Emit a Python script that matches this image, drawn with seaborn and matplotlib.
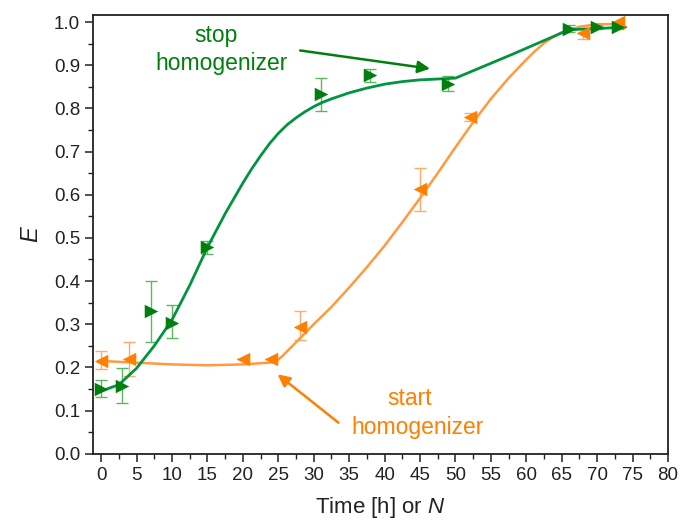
import matplotlib
matplotlib.use("Agg")
import matplotlib.pyplot as plt
from matplotlib.ticker import MultipleLocator, FormatStrFormatter
import seaborn as sns
import pandas as pd

# Measured points: stop homogenizer series (green)
stop_x = [0, 3, 7, 10, 15, 31, 38, 49, 66, 70, 73]
stop_y = [0.151, 0.158, 0.33, 0.304, 0.478, 0.833, 0.877, 0.857, 0.984, 0.988, 0.988]
stop_lo = [0.02, 0.04, 0.07, 0.035, 0.015, 0.038, 0.015, 0.017, 0.008, 0.005, 0.005]
stop_hi = [0.02, 0.04, 0.07, 0.04, 0.015, 0.038, 0.015, 0.017, 0.008, 0.005, 0.005]

# Measured points: start homogenizer series (orange)
start_x = [0, 4, 20, 24, 28, 45, 52, 68, 73]
start_y = [0.216, 0.22, 0.22, 0.22, 0.294, 0.613, 0.78, 0.975, 1.0]
start_lo = [0.02, 0.04, 0.0, 0.0, 0.03, 0.05, 0.01, 0.015, 0.0]
start_hi = [0.022, 0.04, 0.0, 0.0, 0.036, 0.05, 0.01, 0.0, 0.0]

# Fitted trend curves
stop_fit_x = [0, 2.5, 5, 7.5, 10, 12.5, 15, 17.5, 20, 21.25, 22.5, 23.75, 25,
              26.25, 27.5, 28.75, 30, 31.25, 32.5, 35, 37.5, 40, 42.5, 45,
              47.5, 50, 58, 66, 74]
stop_fit_y = [0.145, 0.16, 0.198, 0.25, 0.31, 0.39, 0.478, 0.556, 0.627, 0.66,
              0.69, 0.718, 0.742, 0.762, 0.778, 0.792, 0.804, 0.814, 0.822,
              0.836, 0.847, 0.856, 0.862, 0.866, 0.868, 0.870, 0.925, 0.982,
              0.988]
start_fit_x = [0, 5, 10, 15, 20, 24.5, 25.5, 27.5, 30, 32.5, 35, 37.5, 40,
               42.5, 45, 47.5, 50, 52.5, 55, 57.5, 60, 61.25, 62.5, 63.75, 65,
               66.25, 67.5, 70, 73]
start_fit_y = [0.215, 0.211, 0.207, 0.205, 0.207, 0.212, 0.225, 0.258, 0.30,
               0.34, 0.385, 0.432, 0.482, 0.536, 0.592, 0.65, 0.71, 0.768,
               0.822, 0.87, 0.913, 0.933, 0.951, 0.965, 0.976, 0.983, 0.989,
               0.995, 0.995]

GREEN_LINE = "#009440"
GREEN_MARK = "#007f0e"
GREEN_ERR = "#5cb85c"
ORANGE_LINE = "#ff9a40"
ORANGE_MARK = "#ff7f00"
ORANGE_ERR = "#ffaa66"
INK = "#222222"

sns.set_style("ticks")
plt.rcParams["font.family"] = ["Liberation Sans", "DejaVu Sans"]
plt.rcParams["mathtext.fontset"] = "custom"
plt.rcParams["mathtext.it"] = "Liberation Sans:italic"
plt.rcParams["mathtext.rm"] = "Liberation Sans"

fig = plt.figure(figsize=(6.81, 5.24), dpi=100)
ax = fig.add_axes([0.137, 0.134, 0.844, 0.838])

stop_fit = pd.DataFrame({"x": stop_fit_x, "y": stop_fit_y})
start_fit = pd.DataFrame({"x": start_fit_x, "y": start_fit_y})
sns.lineplot(data=start_fit, x="x", y="y", ax=ax, color=ORANGE_LINE, lw=1.8,
             sort=False, zorder=2)
sns.lineplot(data=stop_fit, x="x", y="y", ax=ax, color=GREEN_LINE, lw=2.0,
             sort=False, zorder=3)

ax.errorbar(stop_x, stop_y, yerr=[stop_lo, stop_hi], fmt="none",
            ecolor=GREEN_ERR, elinewidth=1.0, capsize=4, capthick=1.0, zorder=1)
ax.errorbar(start_x, start_y, yerr=[start_lo, start_hi], fmt="none",
            ecolor=ORANGE_ERR, elinewidth=1.0, capsize=4, capthick=1.0, zorder=1)

stop_pts = pd.DataFrame({"x": stop_x, "y": stop_y})
start_pts = pd.DataFrame({"x": start_x, "y": start_y})
sns.scatterplot(data=start_pts, x="x", y="y", ax=ax, marker="<", s=95,
                color=ORANGE_MARK, edgecolor=ORANGE_MARK, linewidth=0, zorder=4)
sns.scatterplot(data=stop_pts, x="x", y="y", ax=ax, marker=">", s=95,
                color=GREEN_MARK, edgecolor=GREEN_MARK, linewidth=0, zorder=5)

# Annotations
ax.annotate("", xy=(46.8, 0.891), xytext=(27.7, 0.935),
            arrowprops=dict(arrowstyle="-|>", color=GREEN_MARK, lw=1.8,
                            mutation_scale=18))
ax.text(16.2, 0.968, "stop", color=GREEN_MARK, fontsize=16.5, ha="center", va="center")
ax.text(17.0, 0.903, "homogenizer", color=GREEN_MARK, fontsize=16.5, ha="center", va="center")

ax.annotate("", xy=(24.6, 0.188), xytext=(33.8, 0.068),
            arrowprops=dict(arrowstyle="-|>", color=ORANGE_MARK, lw=1.8,
                            mutation_scale=18))
ax.text(43.6, 0.128, "start", color=ORANGE_MARK, fontsize=16.5, ha="center", va="center")
ax.text(44.7, 0.062, "homogenizer", color=ORANGE_MARK, fontsize=16.5, ha="center", va="center")

ax.set_xlim(-1.1, 80)
ax.set_ylim(0, 1.017)
ax.xaxis.set_major_locator(MultipleLocator(5))
ax.xaxis.set_minor_locator(MultipleLocator(2.5))
ax.yaxis.set_major_locator(MultipleLocator(0.1))
ax.yaxis.set_minor_locator(MultipleLocator(0.05))
ax.yaxis.set_major_formatter(FormatStrFormatter("%.1f"))
ax.tick_params(which="major", direction="out", length=6, width=1.1,
               labelsize=13.5, color=INK, labelcolor=INK)
ax.tick_params(which="minor", direction="out", length=3.5, width=1.0, color=INK)
ax.tick_params(top=False, right=False, which="both")
for s in ax.spines.values():
    s.set_linewidth(1.3)
    s.set_color(INK)
    s.set_visible(True)

ax.set_xlabel("Time [h] or $N$", fontsize=16, color=INK, labelpad=8)
ax.set_ylabel("$E$", fontsize=17, color=INK, labelpad=8)

fig.savefig("out.png", dpi=100)
